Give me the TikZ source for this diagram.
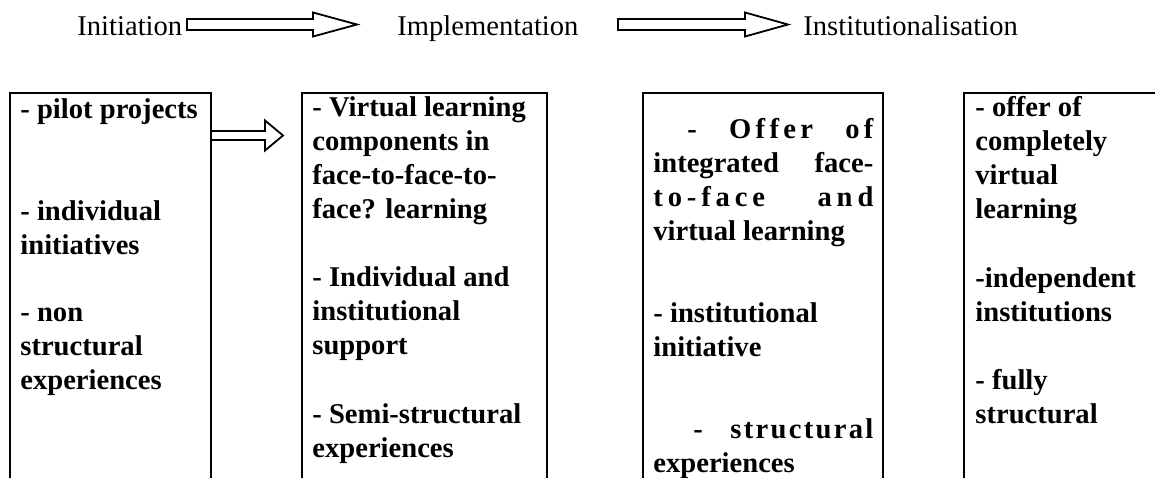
\documentclass[tikz,border=0pt]{standalone}
\usepackage{fontspec}
\setmainfont{Liberation Serif}
\usetikzlibrary{calc}

\tikzset{
    phase/.style={anchor=base west, inner sep=0pt, font=\fontsize{14.3}{17}\selectfont},
    item/.style={anchor=base west, inner sep=0pt, align=left, font=\fontsize{14.3}{16.85}\selectfont\bfseries},
    frame/.style={line width=1pt},
    hollow/.style={line width=0.9pt, line join=miter},
}
% block arrow: start, tip, half shaft, half head, head length
\newcommand{\fatarrow}[5]{%
    \draw[hollow] ($(#1)+(0,-#3)$) -- ($(#2)+(-#5,-#3)$) -- ($(#2)+(-#5,-#4)$) -- (#2)
        -- ($(#2)+(-#5,#4)$) -- ($(#2)+(-#5,#3)$) -- ($(#1)+(0,#3)$) -- cycle;}
\newcommand{\spread}[2]{{\addfontfeature{LetterSpace=#1}#2}}
\newcommand{\jline}[1]{\makebox[110pt][s]{#1}}

\begin{document}
\begin{tikzpicture}[x=0.5pt, y=-0.5pt]
    \clip (0,0) rectangle (1155,477);

    % phases along the top
    \node[phase] (init) at (77,35) {Initiation};
    \node[phase] (impl) at (397,35) {Implementation};
    \node[phase] (inst) at (803,35) {Institutionalisation};
    \coordinate (a1s) at (187,24.5);
    \coordinate (a1e) at (357,24.5);
    \coordinate (a2s) at (618,24.5);
    \coordinate (a2e) at (788,24.5);
    \fatarrow{a1s}{a1e}{5.5}{12}{44}
    \fatarrow{a2s}{a2e}{5.5}{12}{43}

    % columns, open at the bottom
    \draw[frame] (10,490) |- (211,93) -- (211,490);
    \draw[frame] (302,490) |- (547,93) -- (547,490);
    \draw[frame] (643,490) |- (883,93) -- (883,490);
    \draw[frame] (964,490) |- (1165,93);
    \coordinate (m1s) at (211,135.5);
    \coordinate (m1e) at (283,135.5);
    \fatarrow{m1s}{m1e}{4.5}{15}{18}

    % first column (placed at the baseline of the last line)
    \node[item] (pilot) at (20,118) {- pilot projects};
    \node[item] (indiv) at (20,254) {- individual\\initiatives};
    \node[item] (nonst) at (20,389) {- non\\structural\\experiences};

    % second column
    \node[item] (virt) at (312,218) {- Virtual learning\\components in\\face-to-face-to-\\face? learning};
    \node[item] (supp) at (312,354) {- Individual and\\institutional\\support};
    \node[item] (semi) at (312,457) {- Semi-structural\\experiences};

    % third column
    \node[item] (integ) at (653,240) {\jline{\hspace*{17pt}-\hfill\spread{15}{Offer}\hfill\spread{15}{of}}\\
        \jline{integrated\hfill face-}\\
        \jline{\spread{17}{to-face}\hfill\spread{17}{and}}\\
        virtual learning};
    \node[item] (instini) at (653,356) {- institutional\\initiative};
    \node[item] (struct) at (653,472) {\jline{\hspace*{20pt}-\hfill\spread{8}{structural}}\\experiences};

    % fourth column
    \node[item] (compl) at (975,218) {- offer of\\completely\\virtual\\learning};
    \node[item] (indep) at (975,321) {-independent\\institutions};
    \node[item] (fully) at (975,423) {- fully\\structural};
\end{tikzpicture}
\end{document}
